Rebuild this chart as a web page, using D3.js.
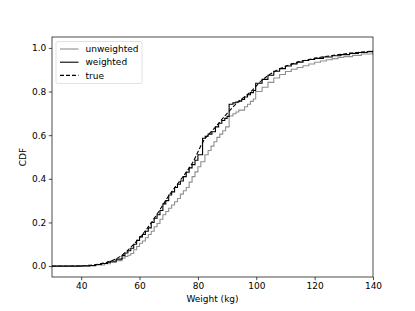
<!DOCTYPE html>
<html>
<head>
<meta charset="utf-8">
<script src="https://cdn.jsdelivr.net/npm/d3@7"></script>
<style>
  body { margin: 0; background: #fff; }
  text { font-family: "DejaVu Sans", sans-serif; }
</style>
</head>
<body>
<svg id="chart" width="415" height="311"></svg>
<script>
// values: weight (kg) and cumulative share
const weights = [30, 40, 43, 45, 47, 49, 50, 52, 54, 55, 56, 57, 58, 59, 60, 61, 62, 63, 64, 65,
  66, 67, 68, 69, 70, 71, 72, 73, 74, 75, 76, 77, 78, 79, 80, 81.6, 82.5, 83.5, 84.8, 86,
  87.1, 88.2, 89.2, 90, 90.7, 92, 93, 94, 95, 96, 97, 98, 99, 99.8, 102, 104, 106, 108, 110,
  112, 114, 116, 118, 120, 123, 126, 129, 132, 135, 138, 140, 150];
const weightedCdf = [0, 0.001, 0.003, 0.007, 0.012, 0.018, 0.022, 0.032, 0.048, 0.06, 0.07, 0.082, 0.1, 0.118, 0.134, 0.145, 0.16, 0.175, 0.2, 0.219,
  0.235, 0.255, 0.285, 0.3, 0.326, 0.34, 0.36, 0.375, 0.39, 0.41, 0.43, 0.45, 0.465, 0.485, 0.51, 0.586, 0.595, 0.605, 0.616, 0.638,
  0.655, 0.667, 0.677, 0.686, 0.742, 0.748, 0.752, 0.756, 0.764, 0.775, 0.785, 0.795, 0.805, 0.838, 0.856, 0.875, 0.893, 0.905, 0.917,
  0.927, 0.935, 0.942, 0.947, 0.952, 0.958, 0.964, 0.969, 0.975, 0.979, 0.983, 0.986, 0.99];

const rawWeights = [30, 40, 45, 48, 50, 52, 54, 55, 56, 57, 58, 59, 60, 61, 62, 63, 64, 65, 66, 67,
  68, 69, 70, 71, 72, 73, 74, 75, 76, 77, 78, 79, 80, 81, 82.4, 83.5, 84.5, 85.5, 86.5, 87.5,
  88.5, 89.5, 90.7, 92, 93, 94, 96, 97, 98, 99, 99.8, 102, 104, 106, 108, 110, 112, 114,
  116, 118, 120, 122, 124, 126, 128, 130, 133, 136, 140, 150];
const unweightedCdf = [0, 0.001, 0.005, 0.011, 0.017, 0.025, 0.036, 0.044, 0.05, 0.058, 0.075, 0.09, 0.105, 0.115, 0.13, 0.145, 0.16, 0.18, 0.195, 0.215,
  0.235, 0.25, 0.265, 0.28, 0.295, 0.31, 0.33, 0.345, 0.36, 0.385, 0.41, 0.432, 0.455, 0.478, 0.51, 0.53, 0.55, 0.57, 0.59, 0.605,
  0.62, 0.638, 0.688, 0.698, 0.706, 0.715, 0.73, 0.742, 0.755, 0.766, 0.8, 0.82, 0.842, 0.862, 0.878, 0.892, 0.902, 0.91,
  0.918, 0.926, 0.934, 0.94, 0.946, 0.951, 0.956, 0.96, 0.966, 0.972, 0.985, 0.99];

const trueWeights = [30, 38, 42, 46, 50, 54, 58, 62, 66, 70, 74, 78, 82, 86, 90, 94, 98, 102, 106, 110,
  114, 118, 122, 126, 130, 134, 138, 142];
const trueCdf = [0, 0.001, 0.003, 0.009, 0.022, 0.05, 0.1, 0.162, 0.238, 0.322, 0.394, 0.47, 0.575, 0.637, 0.7, 0.755, 0.798, 0.852, 0.89, 0.915,
  0.934, 0.947, 0.957, 0.965, 0.972, 0.978, 0.983, 0.987];

const xTicks = [40, 60, 80, 100, 120, 140];
const yTicks = [0, 0.2, 0.4, 0.6, 0.8, 1.0];

const series = [
  { name: 'unweighted', xs: rawWeights, ys: unweightedCdf, color: '#8f8f8f', dash: null, step: true },
  { name: 'weighted', xs: weights, ys: weightedCdf, color: '#000', dash: null, step: true },
  { name: 'true', xs: trueWeights, ys: trueCdf, color: '#000', dash: '4,2', step: false }
];

const margin = { top: 37, right: 42, bottom: 34, left: 52 };
const width = 415, height = 311;

const svg = d3.select('#chart');

const x = d3.scaleLinear().domain([30, 140]).range([margin.left, width - margin.right]);
const y = d3.scaleLinear().domain([-0.05, 1.05]).range([height - margin.bottom, margin.top]);

svg.append('defs').append('clipPath').attr('id', 'clip')
  .append('rect')
  .attr('x', margin.left).attr('y', margin.top)
  .attr('width', x.range()[1] - x.range()[0])
  .attr('height', y.range()[0] - y.range()[1]);

const plot = svg.append('g').attr('clip-path', 'url(#clip)');

// draw true first so the weighted steps sit on top of it
[series[2], series[0], series[1]].forEach((s) => {
  const line = d3.line()
    .x((d, i) => x(s.xs[i]))
    .y((d) => y(d))
    .curve(s.step ? d3.curveStepAfter : d3.curveMonotoneX);
  plot.append('path')
    .attr('d', line(s.ys))
    .attr('fill', 'none')
    .attr('stroke', s.color)
    .attr('stroke-width', 1.1)
    .attr('stroke-dasharray', s.dash);
});

// axes
const xAxis = svg.append('g')
  .attr('transform', `translate(0,${height - margin.bottom})`)
  .call(d3.axisBottom(x).tickValues(xTicks).tickSize(3.2).tickPadding(2.5).tickFormat(d3.format('d')));
const yAxis = svg.append('g')
  .attr('transform', `translate(${margin.left},0)`)
  .call(d3.axisLeft(y).tickValues(yTicks).tickSize(3.2).tickPadding(2.5).tickFormat(d3.format('.1f')));

[xAxis, yAxis].forEach((a) => {
  a.select('.domain').remove();
  a.selectAll('.tick line').attr('stroke', '#000').attr('stroke-width', 0.7);
  a.selectAll('.tick text').attr('font-size', 9).attr('fill', '#000')
    .style('font-family', '"DejaVu Sans", sans-serif');
});

// frame
svg.append('rect')
  .attr('x', margin.left).attr('y', margin.top)
  .attr('width', x.range()[1] - x.range()[0])
  .attr('height', y.range()[0] - y.range()[1])
  .attr('fill', 'none')
  .attr('stroke', '#000')
  .attr('stroke-width', 0.7);

// labels
svg.append('text')
  .attr('x', (x.range()[0] + x.range()[1]) / 2)
  .attr('y', 302)
  .attr('text-anchor', 'middle')
  .attr('font-size', 9)
  .text('Weight (kg)');

svg.append('text')
  .attr('transform', `translate(25.5,${(y.range()[0] + y.range()[1]) / 2}) rotate(-90)`)
  .attr('text-anchor', 'middle')
  .attr('font-size', 9)
  .text('CDF');

// legend
const legend = svg.append('g').attr('transform', 'translate(56,41.5)');
legend.append('rect')
  .attr('width', 86).attr('height', 42).attr('rx', 2)
  .attr('fill', '#fff').attr('fill-opacity', 0.8)
  .attr('stroke', '#d6d6d6').attr('stroke-width', 0.7);

series.forEach((s, i) => {
  const cy = 7.5 + i * 13.2;
  legend.append('line')
    .attr('x1', 4).attr('x2', 22.5)
    .attr('y1', cy).attr('y2', cy)
    .attr('stroke', s.color)
    .attr('stroke-width', 1.1)
    .attr('stroke-dasharray', s.dash);
  legend.append('text')
    .attr('x', 29.5).attr('y', cy + 3.2)
    .attr('font-size', 9)
    .text(s.name);
});
</script>
</body>
</html>
